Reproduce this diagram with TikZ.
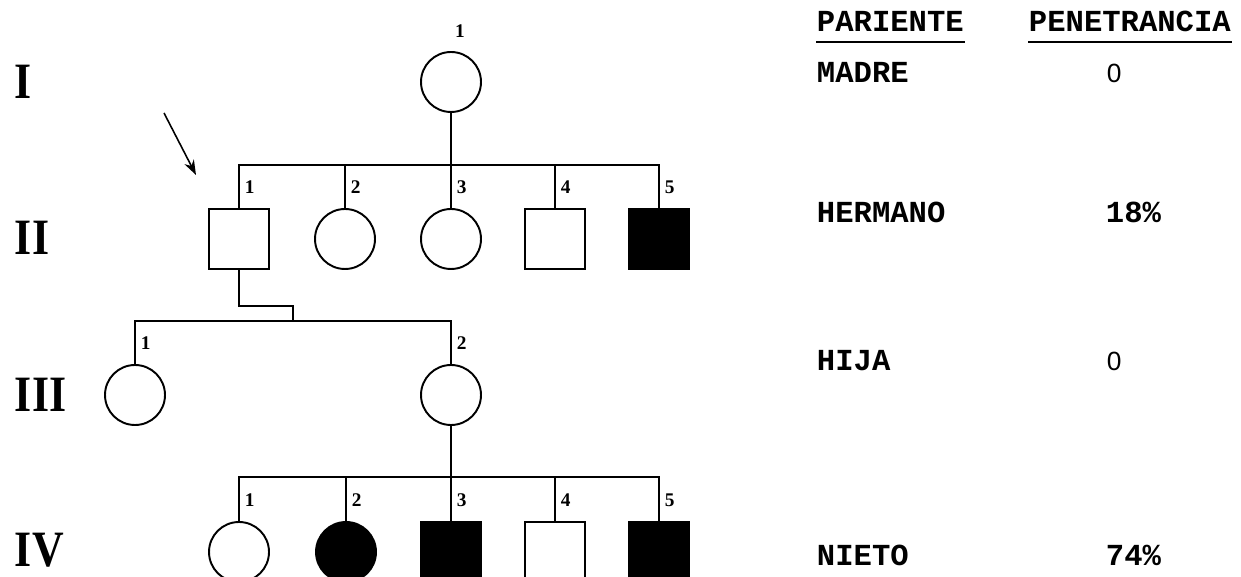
\documentclass[tikz,border=0pt]{standalone}
\usepackage{fontspec}
\setmainfont{Liberation Serif}
\newfontfamily\romanfont[FakeStretch=0.86]{Liberation Serif}
\newfontfamily\courierfont{Liberation Mono}
\newfontfamily\plainfont{Liberation Sans}
\usetikzlibrary{arrows.meta}

\begin{document}
\begin{tikzpicture}[x=0.02cm,y=-0.02cm,line width=1.1pt,>={Stealth[length=8.5pt,width=6pt]}]
  \tikzstyle{female}=[draw,circle,minimum size=1.2cm,inner sep=0pt]
  \tikzstyle{male}=[draw,rectangle,minimum size=1.2cm,inner sep=0pt]
  \tikzstyle{affected}=[fill=black]
  \tikzstyle{num}=[font=\fontsize{11}{12}\selectfont\bfseries,inner sep=0pt,anchor=west]
  \tikzstyle{gen}=[font=\fontsize{29}{34}\selectfont\romanfont\bfseries,inner sep=0pt,anchor=west]
  \tikzstyle{tab}=[font=\fontsize{17.4}{20}\selectfont\courierfont\bfseries,inner sep=0pt,anchor=base west]
  \tikzstyle{zero}=[font=\fontsize{15}{17}\selectfont\plainfont,inner sep=0pt,anchor=base west]

  \clip (0,0) rectangle (1241,577);

  % generations
  \node[gen] (gI)   at (14,82)  {I};
  \node[gen] (gII)  at (14,238) {II};
  \node[gen] (gIII) at (14,395) {III};
  \node[gen] (gIV)  at (14,550) {IV};

  % I
  \node[female] (I1) at (451,82) {};
  \node[font=\fontsize{11}{12}\selectfont\bfseries,inner sep=0pt] (nI1) at (460,31) {1};

  % II
  \node[male]            (II1) at (239,239) {};
  \node[female]          (II2) at (345,239) {};
  \node[female]          (II3) at (451,239) {};
  \node[male]            (II4) at (555,239) {};
  \node[male,affected]   (II5) at (659,239) {};
  \foreach \i/\x in {1/239,2/345,3/451,4/555,5/659}
    \node[num] (nII\i) at (\x+5,187) {\i};

  \coordinate (sibII) at (451,165);
  \draw (I1) -- (sibII);
  \draw (II1.north) |- (sibII) -| (II5.north);
  \draw (II2.north) -- (II2.north |- sibII);
  \draw (II3.north) -- (sibII);
  \draw (II4.north) -- (II4.north |- sibII);

  % proband
  \coordinate (arrowtail) at (164,113);
  \coordinate (arrowtip) at (196,175);
  \draw[->,line width=0.9pt] (arrowtail) -- (arrowtip);

  % III
  \node[female] (III1) at (135,395) {};
  \node[female] (III2) at (451,395) {};
  \node[num] (nIII1) at (140,343) {1};
  \node[num] (nIII2) at (456,343) {2};

  \coordinate (stepIII) at (293,306);
  \coordinate (sibIII) at (293,321);
  \draw (II1.south) |- (stepIII) -- (sibIII);
  \draw (III1.north) |- (sibIII) -| (III2.north);

  % IV
  \node[female]          (IV1) at (239,552) {};
  \node[female,affected] (IV2) at (346,552) {};
  \node[male,affected]   (IV3) at (451,552) {};
  \node[male]            (IV4) at (555,552) {};
  \node[male,affected]   (IV5) at (659,552) {};
  \foreach \i/\x in {1/239,2/346,3/451,4/555,5/659}
    \node[num] (nIV\i) at (\x+5,500) {\i};

  \coordinate (sibIV) at (451,477);
  \draw (III2) -- (sibIV);
  \draw (IV1.north) |- (sibIV) -| (IV5.north);
  \draw (IV2.north) -- (IV2.north |- sibIV);
  \draw (IV3.north) -- (sibIV);
  \draw (IV4.north) -- (IV4.north |- sibIV);

  % table
  \node[tab] (parh) at (816,32)  {PARIENTE};
  \node[tab] (penh) at (1028,32) {PENETRANCIA};
  \draw ([yshift=-5pt]parh.south west) -- ([yshift=-5pt]parh.south east);
  \draw ([yshift=-5pt]penh.south west) -- ([yshift=-5pt]penh.south east);

  \node[tab]  (madre)    at (816,83)   {MADRE};
  \node[zero] (pmadre)   at (1106,83)  {0};
  \node[tab]  (hermano)  at (816,223)  {HERMANO};
  \node[tab]  (phermano) at (1105,223) {18\%};
  \node[tab]  (hija)     at (816,371)  {HIJA};
  \node[zero] (phija)    at (1106,371) {0};
  \node[tab]  (nieto)    at (816,565)  {NIETO};
  \node[tab]  (pnieto)   at (1105,565) {74\%};
\end{tikzpicture}
\end{document}
